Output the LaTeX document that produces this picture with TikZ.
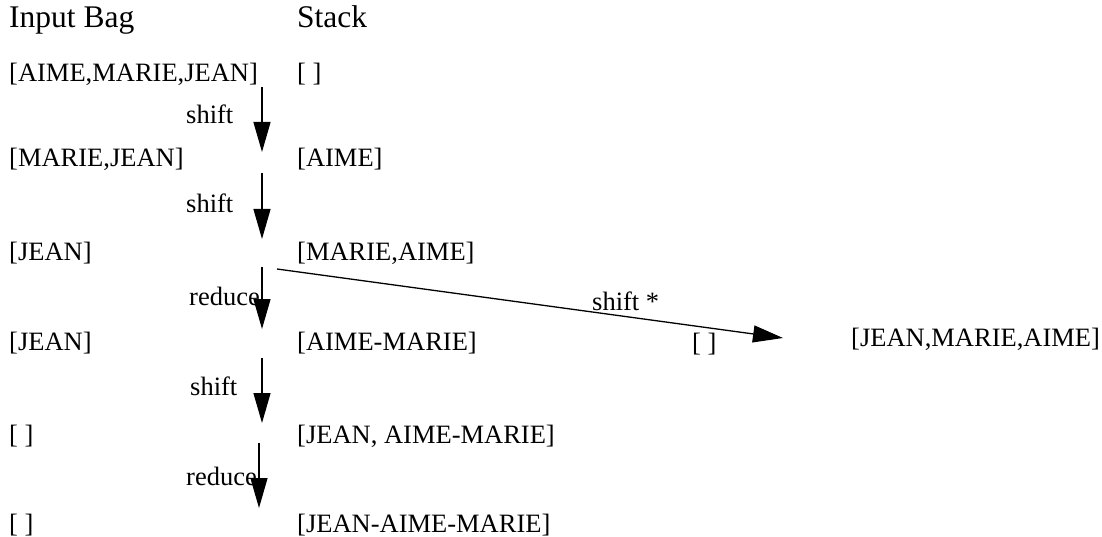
\documentclass[tikz,border=0pt]{standalone}
\usepackage{fontspec}
\setmainfont{Liberation Serif}
\usetikzlibrary{arrows.meta}
\begin{document}
\begin{tikzpicture}[x=1pt,y=-1pt,
  txt/.style={anchor=base west,inner sep=0pt,font=\fontsize{26.5}{30}\selectfont},
  hdr/.style={anchor=base west,inner sep=0pt,font=\fontsize{31.5}{36}\selectfont},
  arr/.style={line width=1.3pt,-{Triangle[length=30pt,width=17pt]}}]
\useasboundingbox (0,0) rectangle (1102,537);
% headers
\node[hdr] (h1) at (9,28) {Input Bag};
\node[hdr] (h2) at (297,28) {Stack};
% column 1
\node[txt] (a1) at (9,82) {[AIME,MARIE,JEAN]};
\node[txt] (a2) at (9,167) {[MARIE,JEAN]};
\node[txt] (a3) at (9,260) {[JEAN]};
\node[txt] (a4) at (9,350) {[JEAN]};
\node[txt] (a5) at (9,443) {[ ]};
\node[txt] (a6) at (9,532) {[ ]};
% column 2
\node[txt] (b1) at (297,82) {[ ]};
\node[txt] (b2) at (297,167) {[AIME]};
\node[txt] (b3) at (297,260) {[MARIE,AIME]};
\node[txt] (b4) at (297,350) {[AIME-MARIE]};
\node[txt] (b5) at (297,443) {[JEAN, AIME-MARIE]};
\node[txt] (b6) at (297,532) {[JEAN-AIME-MARIE]};
% right side
\node[txt] (c1) at (692,351) {[ ]};
\node[txt] (c2) at (851,346) {[JEAN,MARIE,AIME]};
% labels
\node[txt] (l1) at (186,124) {shift};
\node[txt] (l2) at (186,213) {shift};
\node[txt] (l3) at (189,305) {reduce};
\node[txt] (l4) at (190,395) {shift};
\node[txt] (l5) at (186,485) {reduce};
\node[txt] (l6) at (592,310) {shift *};
% arrow ends
\coordinate (s1) at (262,87);  \coordinate (e1) at (262,152);
\coordinate (s2) at (262,173); \coordinate (e2) at (262,239);
\coordinate (s3) at (262,267); \coordinate (e3) at (262,329);
\coordinate (s4) at (262,358); \coordinate (e4) at (262,423);
\coordinate (s5) at (259,443); \coordinate (e5) at (259,508);
\coordinate (s6) at (277,269); \coordinate (e6) at (783,338);
\draw[arr] (s1) -- (e1);
\draw[arr] (s2) -- (e2);
\draw[arr] (s3) -- (e3);
\draw[arr] (s4) -- (e4);
\draw[arr] (s5) -- (e5);
\draw[arr] (s6) -- (e6);
\end{tikzpicture}
\end{document}
